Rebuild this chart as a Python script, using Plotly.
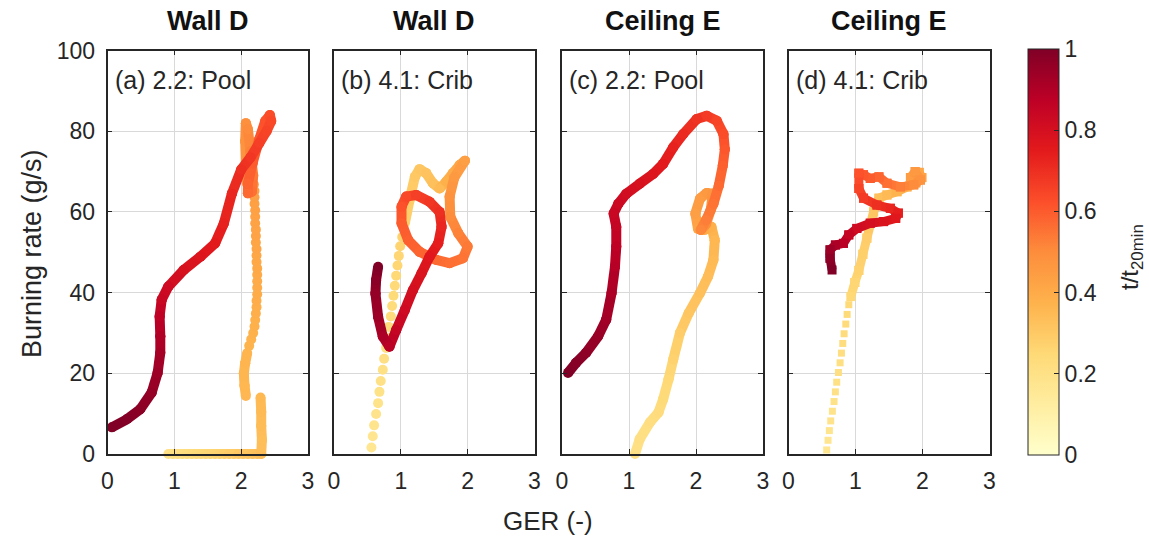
import plotly.graph_objects as go

# ---------------------------------------------------------------------------
# Normalised time colour scale (YlOrRd)
# ---------------------------------------------------------------------------
TIME_SCALE = [[0.0, "#ffffcc"], [0.125, "#ffeda0"], [0.25, "#fed976"],
              [0.375, "#feb24c"], [0.5, "#fd8d3c"], [0.625, "#fc4e2a"],
              [0.75, "#e31a1c"], [0.875, "#bd0026"], [1.0, "#800026"]]

PANEL_TITLES = ["Wall D", "Wall D", "Ceiling E", "Ceiling E"]
PANEL_LABELS = ["(a) 2.2: Pool", "(b) 4.1: Crib", "(c) 2.2: Pool", "(d) 4.1: Crib"]
X_TICKS = [0, 1, 2, 3]
Y_TICKS = [0, 20, 40, 60, 80, 100]
CBAR_TICKS = [0, 0.2, 0.4, 0.6, 0.8, 1]

# ---------------------------------------------------------------------------
# (a) Wall D, pool fire
# ---------------------------------------------------------------------------
A_BASE_GER = [0.91, 0.98, 1.05, 1.12, 1.19, 1.26, 1.33, 1.40, 1.47, 1.54, 1.61,
              1.68, 1.75, 1.82, 1.89, 1.96, 2.03, 2.10, 2.17, 2.24, 2.30,
              2.31, 2.30, 2.30, 2.29]
A_BASE_RATE = [0, 0, 0, 0, 0, 0, 0, 0, 0, 0, 0,
               0, 0, 0, 0, 0, 0, 0, 0, 0, 0,
               3.5, 7.0, 10.5, 14.0]
A_BASE_T = [0.200, 0.207, 0.213, 0.220, 0.227, 0.233, 0.240, 0.247, 0.253, 0.260, 0.267,
            0.273, 0.280, 0.287, 0.293, 0.300, 0.307, 0.313, 0.320, 0.327, 0.333,
            0.338, 0.343, 0.348, 0.353]

A_RISE_GER = [2.07, 2.05, 2.04, 2.06, 2.09]
A_RISE_RATE = [14.4, 17.0, 20.0, 22.5, 25.0]
A_RISE_T = [0.358, 0.360, 0.362, 0.364, 0.366]

A_DOTS_GER = [2.12, 2.15, 2.18, 2.20, 2.21, 2.22, 2.23, 2.23, 2.24, 2.24, 2.24, 2.24, 2.24,
              2.23, 2.23, 2.23, 2.22, 2.22, 2.22, 2.21, 2.21, 2.21, 2.20, 2.20, 2.20, 2.19]
A_DOTS_RATE = [26.8, 28.4, 30.0, 31.6, 33.2, 34.8, 36.4, 38.0, 39.6, 41.2, 42.8, 44.4, 46.0,
               47.6, 49.2, 50.8, 52.4, 54.0, 55.6, 57.2, 58.8, 60.4, 62.0, 63.6, 65.2, 66.8]
A_DOTS_T = [0.370, 0.373, 0.376, 0.379, 0.382, 0.385, 0.388, 0.391, 0.394, 0.397, 0.400, 0.403, 0.406,
            0.409, 0.412, 0.415, 0.418, 0.421, 0.424, 0.427, 0.430, 0.433, 0.436, 0.439, 0.442, 0.445]

A_LOOP_GER = [2.14, 2.09, 2.07, 2.06, 2.07, 2.10, 2.14, 2.18, 2.16, 2.10, 2.10, 2.17,
              2.27, 2.36, 2.43, 2.45, 2.38, 2.27, 2.14, 2.00, 1.86, 1.74, 1.61, 1.39,
              1.14, 0.91, 0.81, 0.78, 0.79, 0.79, 0.75, 0.66, 0.49, 0.29, 0.065]
A_LOOP_RATE = [67.5, 67.0, 72.0, 77.5, 82.0, 80.5, 75.0, 69.0, 65.0, 64.6, 67.0, 72.0,
               78.0, 82.5, 84.0, 82.5, 80.0, 77.0, 73.5, 70.5, 64.5, 57.1, 52.2, 48.9,
               45.6, 41.5, 38.2, 34.1, 29.2, 25.1, 20.1, 15.2, 11.1, 8.6, 6.6]
A_LOOP_T = [0.45, 0.46, 0.47, 0.48, 0.49, 0.50, 0.52, 0.54, 0.56, 0.57, 0.58, 0.60,
            0.61, 0.62, 0.63, 0.64, 0.65, 0.66, 0.68, 0.70, 0.72, 0.73, 0.75, 0.77,
            0.79, 0.82, 0.84, 0.87, 0.90, 0.92, 0.94, 0.96, 0.975, 0.99, 1.0]

# ---------------------------------------------------------------------------
# (b) Wall D, crib fire
# ---------------------------------------------------------------------------
B_DOTS_GER = [0.56, 0.58, 0.60, 0.63, 0.66, 0.68, 0.70, 0.73, 0.75, 0.78, 0.80,
              0.82, 0.85, 0.87, 0.89, 0.91, 0.93, 0.95, 0.97, 0.99, 1.02, 1.04]
B_DOTS_RATE = [1.6, 4.4, 7.1, 9.9, 12.6, 15.4, 18.1, 20.9, 23.6, 26.3, 28.9,
               31.5, 34.1, 36.7, 39.2, 41.7, 44.2, 46.7, 49.1, 51.5, 53.8, 56.0]
B_DOTS_T = [0.170, 0.175, 0.180, 0.185, 0.190, 0.195, 0.200, 0.205, 0.210, 0.215, 0.220,
            0.225, 0.230, 0.235, 0.240, 0.245, 0.250, 0.255, 0.260, 0.265, 0.270, 0.275]

B_PATH_GER = [1.06, 1.13, 1.21, 1.28, 1.38, 1.48, 1.58, 1.68, 1.78, 1.88, 1.96,
              1.80, 1.73, 1.74, 1.86, 2.00, 1.93, 1.73, 1.53, 1.28, 1.11, 1.01,
              1.01, 1.08, 1.23, 1.43, 1.58, 1.61, 1.56, 1.43, 1.31, 1.18, 1.06,
              0.93, 0.83, 0.73, 0.66, 0.62, 0.63, 0.66]
B_PATH_RATE = [57.2, 62.9, 68.7, 70.6, 69.6, 67.1, 65.8, 67.5, 69.6, 71.6, 72.7,
               68.5, 63.8, 58.8, 54.7, 51.4, 48.5, 47.3, 48.1, 50.1, 53.0, 57.2,
               61.3, 63.8, 64.2, 62.5, 60.0, 56.3, 52.2, 48.9, 44.8, 40.6, 35.7,
               30.7, 26.6, 29.1, 34.0, 39.8, 43.1, 46.4]
B_PATH_T = [0.28, 0.29, 0.30, 0.31, 0.32, 0.33, 0.35, 0.38, 0.40, 0.42, 0.44,
            0.46, 0.48, 0.50, 0.52, 0.54, 0.55, 0.56, 0.57, 0.58, 0.59, 0.60,
            0.62, 0.64, 0.66, 0.68, 0.70, 0.72, 0.74, 0.76, 0.78, 0.80, 0.82,
            0.85, 0.88, 0.91, 0.94, 0.96, 0.98, 1.0]

# ---------------------------------------------------------------------------
# (c) Ceiling E, pool fire
# ---------------------------------------------------------------------------
C_PATH_GER = [1.09, 1.16, 1.31, 1.44, 1.51, 1.59, 1.66, 1.76, 1.89, 2.06,
              2.18, 2.26, 2.28, 2.23, 2.12, 2.03, 1.99, 2.06, 2.16, 2.25,
              2.22, 2.15, 2.07, 2.15, 2.26, 2.34, 2.40, 2.43, 2.41, 2.31,
              2.16, 2.01, 1.81, 1.66, 1.51, 1.36, 1.16, 0.96, 0.84, 0.77,
              0.81, 0.81, 0.79, 0.74, 0.66, 0.54, 0.36, 0.21, 0.09]
C_PATH_RATE = [0.0, 3.7, 7.8, 10.3, 13.6, 18.5, 23.4, 30.0, 34.9, 39.9,
               44.0, 48.1, 53.0, 56.3, 55.5, 55.8, 59.6, 63.3, 64.7, 64.5,
               60.5, 57.0, 55.5, 58.0, 62.0, 66.5, 71.5, 75.5, 79.3, 82.6,
               83.8, 83.0, 79.3, 76.0, 71.9, 69.4, 67.0, 64.5, 62.0, 59.6,
               56.3, 51.4, 46.4, 39.9, 33.3, 29.2, 25.1, 22.6, 20.1]
C_PATH_T = [0.20, 0.21, 0.22, 0.23, 0.24, 0.25, 0.27, 0.29, 0.31, 0.33,
            0.34, 0.35, 0.36, 0.38, 0.40, 0.42, 0.44, 0.45, 0.46, 0.47,
            0.48, 0.49, 0.51, 0.53, 0.55, 0.57, 0.59, 0.61, 0.63, 0.65,
            0.67, 0.69, 0.71, 0.73, 0.75, 0.77, 0.79, 0.81, 0.83, 0.84,
            0.85, 0.87, 0.89, 0.91, 0.93, 0.95, 0.97, 0.985, 1.0]

# ---------------------------------------------------------------------------
# (d) Ceiling E, crib fire
# ---------------------------------------------------------------------------
D_DOTS_GER = [0.57, 0.59, 0.61, 0.63, 0.655, 0.68, 0.70, 0.72,
              0.745, 0.77, 0.79, 0.81, 0.83, 0.855, 0.875, 0.90]
D_DOTS_RATE = [1.0, 3.4, 5.8, 8.2, 10.6, 13.0, 15.4, 17.8,
               20.2, 22.6, 25.0, 27.4, 29.8, 32.2, 34.6, 37.0]
D_DOTS_T = [0.170, 0.175, 0.180, 0.185, 0.190, 0.195, 0.200, 0.205,
            0.210, 0.215, 0.220, 0.225, 0.230, 0.235, 0.240, 0.245]

D_PATH_GER = [0.93, 0.99, 1.05, 1.11, 1.17, 1.27, 1.35, 1.47, 1.62, 1.77,
              1.87, 1.95, 1.99, 1.90, 1.82, 1.89, 1.97, 1.87, 1.67, 1.47,
              1.35, 1.22, 1.12, 1.05, 1.05, 1.12, 1.32, 1.52, 1.64, 1.60,
              1.42, 1.22, 1.02, 0.90, 0.82, 0.70, 0.62, 0.62, 0.65]
D_PATH_RATE = [39.0, 42.5, 45.5, 49.5, 53.5, 60.0, 63.4, 64.2, 65.0, 66.2,
               68.3, 69.8, 68.5, 67.2, 68.5, 70.0, 67.9, 66.7, 66.2, 67.1,
               68.7, 68.3, 69.2, 69.6, 65.8, 63.4, 61.7, 60.9, 59.7, 58.4,
               57.6, 57.2, 55.9, 54.3, 52.2, 51.8, 50.6, 48.5, 45.6]
D_PATH_T = [0.25, 0.26, 0.27, 0.28, 0.29, 0.31, 0.33, 0.35, 0.37, 0.39,
            0.41, 0.42, 0.43, 0.44, 0.45, 0.46, 0.48, 0.50, 0.53, 0.56,
            0.58, 0.60, 0.61, 0.62, 0.65, 0.67, 0.70, 0.72, 0.74, 0.76,
            0.78, 0.80, 0.82, 0.85, 0.88, 0.91, 0.94, 0.97, 1.0]

# ---------------------------------------------------------------------------
# Layout geometry (pixels of a 1149 x 536 canvas)
# ---------------------------------------------------------------------------
W, H = 1149, 536
PANEL_X = [(107.5, 308.0), (334.0, 534.5), (562.0, 763.0), (788.5, 989.5)]
PANEL_Y = (50.5, 454.0)          # top, bottom
FONT = "Liberation Sans, Arial, Helvetica, sans-serif"
INK = "#262626"


def px_x(p):
    return p / W


def px_y(p):
    return 1 - p / H


def hex_rgb(h):
    h = h.lstrip("#")
    return tuple(int(h[i:i + 2], 16) for i in (0, 2, 4))


def time_colour(v):
    v = min(max(v, 0.0), 1.0)
    for (p0, c0), (p1, c1) in zip(TIME_SCALE, TIME_SCALE[1:]):
        if v <= p1:
            f = (v - p0) / (p1 - p0)
            a, b = hex_rgb(c0), hex_rgb(c1)
            r, g, bl = (round(a[i] + f * (b[i] - a[i])) for i in range(3))
            return f"rgb({r},{g},{bl})"
    return TIME_SCALE[-1][1]


fig = go.Figure()

COLORBAR = dict(
    x=px_x(1028), xanchor="left", y=px_y(252), yanchor="middle",
    thickness=31, thicknessmode="pixels",
    len=406 / H, lenmode="fraction",
    outlinecolor=INK, outlinewidth=1,
    tickvals=CBAR_TICKS, ticktext=["0", "0.2", "0.4", "0.6", "0.8", "1"],
    ticks="inside", ticklen=5, tickcolor=INK,
    tickfont=dict(family=FONT, size=23, color=INK),
    xpad=0, ypad=0,
)


def axis_refs(ax):
    return ("x" if ax == 1 else f"x{ax}"), ("y" if ax == 1 else f"y{ax}")


def add_dots(ax, ger, rate, t, symbol, size, with_scale=False):
    marker = dict(color=t, colorscale=TIME_SCALE, cmin=0, cmax=1, size=size,
                  symbol=symbol, line=dict(width=0))
    if with_scale:
        marker["showscale"] = True
        marker["colorbar"] = COLORBAR
    xa, ya = axis_refs(ax)
    fig.add_trace(go.Scatter(
        x=ger, y=rate, mode="markers", marker=marker, cliponaxis=False,
        hoverinfo="skip", showlegend=False, xaxis=xa, yaxis=ya))


def add_path(ax, ger, rate, t, symbol, size, width):
    # one trace per segment so the colour follows time and later segments sit on top
    xa, ya = axis_refs(ax)
    for i in range(len(ger) - 1):
        fig.add_trace(go.Scatter(
            x=ger[i:i + 2], y=rate[i:i + 2], mode="lines+markers",
            line=dict(color=time_colour(0.5 * (t[i] + t[i + 1])), width=width),
            marker=dict(color=t[i:i + 2], colorscale=TIME_SCALE, cmin=0, cmax=1,
                        size=size, symbol=symbol, line=dict(width=0)),
            cliponaxis=False, hoverinfo="skip", showlegend=False,
            xaxis=xa, yaxis=ya))


# (a)
add_path(1, A_BASE_GER, A_BASE_RATE, A_BASE_T, "circle", 10, 10)
add_path(1, A_RISE_GER, A_RISE_RATE, A_RISE_T, "circle", 10, 10)
add_dots(1, A_DOTS_GER, A_DOTS_RATE, A_DOTS_T, "circle", 10, with_scale=True)
add_path(1, A_LOOP_GER, A_LOOP_RATE, A_LOOP_T, "circle", 10, 10)
# (b)
add_dots(2, B_DOTS_GER, B_DOTS_RATE, B_DOTS_T, "circle", 10)
add_path(2, B_PATH_GER, B_PATH_RATE, B_PATH_T, "circle", 10, 10)
# (c)
add_path(3, C_PATH_GER, C_PATH_RATE, C_PATH_T, "circle", 10, 10)
# (d)
add_dots(4, D_DOTS_GER, D_DOTS_RATE, D_DOTS_T, "square", 7)
add_path(4, D_PATH_GER, D_PATH_RATE, D_PATH_T, "square", 9, 9)

axis_common = dict(
    showline=True, linecolor=INK, linewidth=1.5, mirror="ticks",
    ticks="inside", ticklen=5, tickcolor=INK, tickwidth=1.3,
    showgrid=True, gridcolor="#d9d9d9", gridwidth=1, zeroline=False,
    tickfont=dict(family=FONT, size=23, color=INK),
)

layout = dict(
    width=W, height=H, margin=dict(l=0, r=0, t=0, b=0, autoexpand=False),
    paper_bgcolor="white", plot_bgcolor="white", showlegend=False,
)
annotations = []
for i, (x0, x1) in enumerate(PANEL_X):
    k = "" if i == 0 else str(i + 1)
    layout[f"xaxis{k}"] = dict(
        axis_common, domain=[px_x(x0), px_x(x1)], range=[0, 3],
        tickvals=X_TICKS, ticktext=[str(v) for v in X_TICKS],
        anchor=f"y{k}", ticklabelstandoff=6)
    layout[f"yaxis{k}"] = dict(
        axis_common, domain=[px_y(PANEL_Y[1]), px_y(PANEL_Y[0])], range=[0, 100],
        tickvals=Y_TICKS, ticktext=[str(v) for v in Y_TICKS],
        anchor=f"x{k}", showticklabels=(i == 0), ticklabelstandoff=6)
    annotations.append(dict(
        text=f"<b>{PANEL_TITLES[i]}</b>", xref="paper", yref="paper",
        x=px_x(0.5 * (x0 + x1)), y=px_y(21), xanchor="center", yanchor="middle",
        showarrow=False, font=dict(family=FONT, size=27, color="#111111")))
    annotations.append(dict(
        text=PANEL_LABELS[i], xref="paper", yref="paper",
        x=px_x(x0 + 5), y=px_y(80), xanchor="left", yanchor="middle",
        showarrow=False, font=dict(family=FONT, size=25, color=INK)))

annotations.append(dict(
    text="GER (-)", xref="paper", yref="paper", x=px_x(548), y=px_y(521),
    xanchor="center", yanchor="middle", showarrow=False,
    font=dict(family=FONT, size=26, color=INK)))
annotations.append(dict(
    text="Burning rate (g/s)", xref="paper", yref="paper", x=px_x(32), y=px_y(254),
    xanchor="center", yanchor="middle", textangle=-90, showarrow=False,
    font=dict(family=FONT, size=27, color=INK)))
annotations.append(dict(
    text="t/t<sub>20min</sub>", xref="paper", yref="paper", x=px_x(1131), y=px_y(257),
    xanchor="center", yanchor="middle", textangle=-90, showarrow=False,
    font=dict(family=FONT, size=24, color=INK)))

layout["annotations"] = annotations
fig.update_layout(**layout)

fig.write_html("out.html")
